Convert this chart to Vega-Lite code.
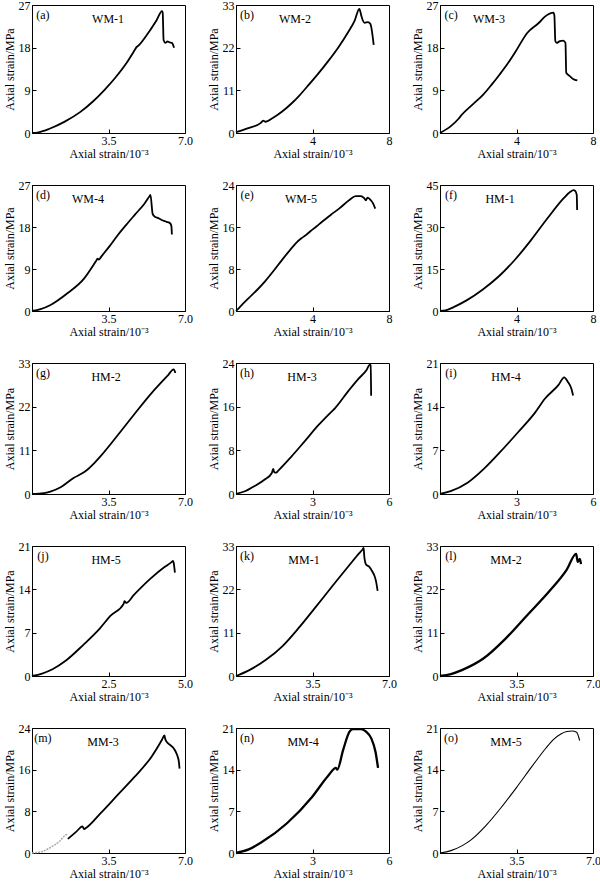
{
"$schema": "https://vega.github.io/schema/vega-lite/v6.json",
"padding": {"left": 2, "top": -2, "right": 0, "bottom": 0},
"background": "white",
"columns": 3,
"spacing": {"row": 52, "column": 51},
"bounds": "flush",
"datasets": {
"a": [{"x":0,"y":0},{"x":0.3,"y":0.15},{"x":0.8,"y":0.9},{"x":1.5,"y":2.4},{"x":2.2,"y":4.4},{"x":2.8,"y":6.7},{"x":3.3,"y":9.0},{"x":3.8,"y":11.6},{"x":4.3,"y":14.6},{"x":4.7,"y":17.5},{"x":4.78,"y":18.1},{"x":4.86,"y":18.4},{"x":5.3,"y":21.0},{"x":5.7,"y":23.8},{"x":5.95,"y":25.7},{"x":5.98,"y":25.4},{"x":6.02,"y":19.6},{"x":6.1,"y":19.0},{"x":6.2,"y":19.3},{"x":6.3,"y":19.1},{"x":6.4,"y":19.0},{"x":6.5,"y":18.0}],
"b": [{"x":0,"y":0.2},{"x":0.6,"y":1.2},{"x":1.3,"y":2.6},{"x":1.42,"y":3.2},{"x":1.55,"y":2.9},{"x":1.9,"y":3.8},{"x":2.38,"y":5.4},{"x":2.9,"y":7.6},{"x":3.3,"y":9.6},{"x":3.8,"y":12.4},{"x":4.3,"y":15.3},{"x":4.8,"y":18.4},{"x":5.34,"y":22.0},{"x":5.9,"y":26.3},{"x":6.2,"y":28.9},{"x":6.45,"y":32.0},{"x":6.5,"y":31.3},{"x":6.56,"y":30.1},{"x":6.73,"y":28.4},{"x":6.9,"y":28.6},{"x":7.03,"y":28.1},{"x":7.08,"y":27.1},{"x":7.2,"y":22.7}],
"c": [{"x":0,"y":0},{"x":0.55,"y":1.4},{"x":0.97,"y":3.0},{"x":1.15,"y":3.9},{"x":1.7,"y":6.0},{"x":2.26,"y":8.1},{"x":2.7,"y":10.2},{"x":3.11,"y":12.3},{"x":3.55,"y":14.7},{"x":3.97,"y":17.3},{"x":4.56,"y":21.1},{"x":5.16,"y":23.2},{"x":5.5,"y":24.6},{"x":5.93,"y":25.4},{"x":5.98,"y":24.8},{"x":6.03,"y":19.4},{"x":6.1,"y":19.0},{"x":6.27,"y":19.4},{"x":6.44,"y":19.5},{"x":6.56,"y":19.0},{"x":6.6,"y":12.7},{"x":6.79,"y":12.0},{"x":6.96,"y":11.4},{"x":7.18,"y":11.1}],
"d": [{"x":0,"y":0},{"x":0.39,"y":0.4},{"x":0.85,"y":1.3},{"x":1.62,"y":3.8},{"x":2.39,"y":7.0},{"x":2.93,"y":10.7},{"x":3.0,"y":11.2},{"x":3.06,"y":11.0},{"x":3.16,"y":11.6},{"x":3.55,"y":13.9},{"x":3.93,"y":16.3},{"x":4.3,"y":18.4},{"x":4.7,"y":20.6},{"x":5.16,"y":23.1},{"x":5.39,"y":24.7},{"x":5.42,"y":24.9},{"x":5.52,"y":20.8},{"x":5.62,"y":20.2},{"x":5.78,"y":19.9},{"x":5.93,"y":19.5},{"x":6.16,"y":19.1},{"x":6.32,"y":18.8},{"x":6.38,"y":18.1},{"x":6.4,"y":16.4}],
"e": [{"x":0,"y":0},{"x":0.21,"y":0.8},{"x":0.65,"y":2.4},{"x":1.1,"y":4.0},{"x":1.53,"y":5.7},{"x":2.0,"y":7.8},{"x":2.4,"y":9.7},{"x":2.8,"y":11.5},{"x":3.1,"y":12.8},{"x":3.4,"y":13.8},{"x":3.63,"y":14.4},{"x":3.89,"y":15.2},{"x":4.2,"y":16.1},{"x":4.5,"y":17.0},{"x":4.95,"y":18.3},{"x":5.39,"y":19.5},{"x":5.91,"y":21.1},{"x":6.26,"y":21.9},{"x":6.53,"y":21.9},{"x":6.7,"y":21.5},{"x":6.79,"y":21.1},{"x":6.88,"y":21.6},{"x":7.05,"y":21.1},{"x":7.18,"y":20.4},{"x":7.28,"y":19.5}],
"f": [{"x":0,"y":0},{"x":0.29,"y":0.2},{"x":0.71,"y":1.4},{"x":1.39,"y":3.8},{"x":2.24,"y":7.7},{"x":3.08,"y":12.4},{"x":3.93,"y":18.4},{"x":4.78,"y":25.5},{"x":5.63,"y":33.2},{"x":6.47,"y":40.3},{"x":6.8,"y":42.5},{"x":6.98,"y":43.2},{"x":7.07,"y":42.9},{"x":7.15,"y":41.5},{"x":7.17,"y":36.1}],
"g": [{"x":0,"y":0},{"x":0.54,"y":0.2},{"x":0.84,"y":0.6},{"x":1.31,"y":1.7},{"x":1.92,"y":4.1},{"x":2.3,"y":5.2},{"x":2.53,"y":6.1},{"x":2.85,"y":7.8},{"x":3.15,"y":9.6},{"x":3.92,"y":14.8},{"x":4.68,"y":20.1},{"x":5.45,"y":25.3},{"x":6.22,"y":29.9},{"x":6.48,"y":31.4},{"x":6.56,"y":30.5}],
"h": [{"x":0,"y":0},{"x":0.35,"y":0.5},{"x":0.75,"y":1.5},{"x":1.14,"y":2.7},{"x":1.4,"y":3.8},{"x":1.46,"y":4.6},{"x":1.5,"y":4.0},{"x":1.57,"y":3.9},{"x":1.66,"y":4.3},{"x":2.18,"y":6.9},{"x":2.7,"y":9.7},{"x":3.23,"y":12.6},{"x":3.75,"y":15.1},{"x":3.88,"y":15.7},{"x":4.41,"y":18.9},{"x":4.8,"y":21.1},{"x":5.12,"y":22.7},{"x":5.25,"y":23.7},{"x":5.28,"y":23.6},{"x":5.3,"y":18.0}],
"i": [{"x":0,"y":0},{"x":0.42,"y":0.45},{"x":1.08,"y":1.8},{"x":1.74,"y":4.1},{"x":2.4,"y":6.9},{"x":3.06,"y":9.9},{"x":3.72,"y":13.0},{"x":4.12,"y":15.3},{"x":4.65,"y":17.5},{"x":4.87,"y":18.7},{"x":5.01,"y":18.0},{"x":5.15,"y":16.9},{"x":5.22,"y":15.8}],
"j": [{"x":0,"y":0},{"x":0.33,"y":0.4},{"x":0.67,"y":1.1},{"x":1.11,"y":2.5},{"x":1.67,"y":5.0},{"x":2.22,"y":7.7},{"x":2.56,"y":9.7},{"x":3.0,"y":11.7},{"x":3.02,"y":12.1},{"x":3.08,"y":11.8},{"x":3.33,"y":13.1},{"x":3.89,"y":15.8},{"x":4.33,"y":17.6},{"x":4.56,"y":18.4},{"x":4.61,"y":18.6},{"x":4.63,"y":18.3},{"x":4.67,"y":16.7}],
"k": [{"x":0,"y":0},{"x":0.61,"y":1.5},{"x":1.37,"y":4.1},{"x":2.13,"y":7.6},{"x":2.9,"y":12.4},{"x":3.66,"y":17.6},{"x":4.42,"y":22.9},{"x":5.18,"y":28.1},{"x":5.64,"y":31.2},{"x":5.79,"y":32.1},{"x":5.84,"y":32.5},{"x":5.87,"y":30.3},{"x":5.95,"y":28.3},{"x":6.1,"y":27.7},{"x":6.25,"y":26.4},{"x":6.33,"y":25.5},{"x":6.4,"y":24.2},{"x":6.48,"y":21.6}],
"l": [{"x":0,"y":0},{"x":0.5,"y":0.5},{"x":1,"y":1.5},{"x":2,"y":4.5},{"x":3,"y":9.5},{"x":4,"y":15.5},{"x":5,"y":21.5},{"x":5.8,"y":27},{"x":6.23,"y":31},{"x":6.3,"y":29},{"x":6.4,"y":29.7},{"x":6.45,"y":28.4}],
"m0": [{"x":0,"y":0},{"x":0.47,"y":0.3},{"x":0.94,"y":1.3},{"x":1.25,"y":2.2},{"x":1.56,"y":3.5},{"x":1.64,"y":3.6}],
"m": [{"x":1.64,"y":2.7},{"x":2.03,"y":4.1},{"x":2.31,"y":5.1},{"x":2.38,"y":4.6},{"x":2.5,"y":4.9},{"x":3.13,"y":7.6},{"x":3.91,"y":11.1},{"x":4.69,"y":14.6},{"x":5.47,"y":18.5},{"x":5.94,"y":21.7},{"x":6.06,"y":22.6},{"x":6.09,"y":22.0},{"x":6.17,"y":21.3},{"x":6.33,"y":20.7},{"x":6.48,"y":20.1},{"x":6.64,"y":18.8},{"x":6.72,"y":17.5},{"x":6.75,"y":16.2}],
"n": [{"x":0,"y":0},{"x":0.5,"y":0.6},{"x":1,"y":1.8},{"x":2,"y":5},{"x":3,"y":9.5},{"x":3.6,"y":12.9},{"x":3.92,"y":14.3},{"x":3.97,"y":14.0},{"x":4.2,"y":17.3},{"x":4.47,"y":20.5},{"x":4.6,"y":20.8},{"x":4.9,"y":20.8},{"x":5.1,"y":20.4},{"x":5.3,"y":19.3},{"x":5.47,"y":17.0},{"x":5.57,"y":14.3}],
"o": [{"x":0,"y":0},{"x":0.5,"y":0.4},{"x":1,"y":1.2},{"x":1.42,"y":2.2},{"x":2.1,"y":4.6},{"x":2.79,"y":7.6},{"x":3.56,"y":11.3},{"x":4.2,"y":14.5},{"x":4.84,"y":17.6},{"x":5.2,"y":19.1},{"x":5.53,"y":20.0},{"x":5.8,"y":20.4},{"x":6.05,"y":20.5},{"x":6.25,"y":20.3},{"x":6.39,"y":18.9}],
"lab": [
{"p":"a","x":0.5,"y":24.9,"t":"(a)"},{"p":"a","x":3.48,"y":24.0,"t":"WM-1"},
{"p":"b","x":0.58,"y":30.4,"t":"(b)"},{"p":"b","x":3.08,"y":29.4,"t":"WM-2"},
{"p":"c","x":0.58,"y":24.9,"t":"(c)"},{"p":"c","x":2.56,"y":24.0,"t":"WM-3"},
{"p":"d","x":0.5,"y":24.9,"t":"(d)"},{"p":"d","x":2.56,"y":24.0,"t":"WM-4"},
{"p":"e","x":0.58,"y":22.1,"t":"(e)"},{"p":"e","x":3.4,"y":21.4,"t":"WM-5"},
{"p":"f","x":0.58,"y":41.5,"t":"(f)"},{"p":"f","x":3.14,"y":40.1,"t":"HM-1"},
{"p":"g","x":0.5,"y":30.4,"t":"(g)"},{"p":"g","x":3.39,"y":29.4,"t":"HM-2"},
{"p":"h","x":0.43,"y":22.1,"t":"(h)"},{"p":"h","x":2.59,"y":21.4,"t":"HM-3"},
{"p":"i","x":0.43,"y":19.4,"t":"(i)"},{"p":"i","x":2.59,"y":18.7,"t":"HM-4"},
{"p":"j","x":0.36,"y":19.4,"t":"(j)"},{"p":"j","x":2.42,"y":18.7,"t":"HM-5"},
{"p":"k","x":0.5,"y":30.4,"t":"(k)"},{"p":"k","x":3.11,"y":29.4,"t":"MM-1"},
{"p":"l","x":0.5,"y":30.4,"t":"(l)"},{"p":"l","x":3.02,"y":29.4,"t":"MM-2"},
{"p":"m","x":0.5,"y":22.1,"t":"(m)"},{"p":"m","x":3.25,"y":21.4,"t":"MM-3"},
{"p":"n","x":0.43,"y":19.4,"t":"(n)"},{"p":"n","x":2.63,"y":18.7,"t":"MM-4"},
{"p":"o","x":0.5,"y":19.4,"t":"(o)"},{"p":"o","x":3.02,"y":18.7,"t":"MM-5"}
]
},
"concat": [
{"width":153,"height":128,"layer":[
 {"data":{"name":"a"},"mark":{"type":"line","color":"black","strokeWidth":1.8,"interpolate":"monotone"},"encoding":{"x":{"field":"x","type":"quantitative","scale":{"domain":[0,7],"nice":false},"axis":{"values":[3.5,7],"format":".1f","title":"Axial strain/10⁻³"}},"y":{"field":"y","type":"quantitative","scale":{"domain":[0,27],"nice":false},"axis":{"values":[0,9,18,27],"title":"Axial strain/MPa"}}}},
 {"data":{"name":"lab"},"transform":[{"filter":"datum.p=='a'"}],"mark":{"type":"text"},"encoding":{"x":{"field":"x","type":"quantitative"},"y":{"field":"y","type":"quantitative"},"text":{"field":"t"}}}]},
{"width":153,"height":128,"layer":[
 {"data":{"name":"b"},"mark":{"type":"line","color":"black","strokeWidth":1.8,"interpolate":"monotone"},"encoding":{"x":{"field":"x","type":"quantitative","scale":{"domain":[0,8],"nice":false},"axis":{"values":[4,8],"format":"d","title":"Axial strain/10⁻³"}},"y":{"field":"y","type":"quantitative","scale":{"domain":[0,33],"nice":false},"axis":{"values":[0,11,22,33],"title":"Axial strain/MPa"}}}},
 {"data":{"name":"lab"},"transform":[{"filter":"datum.p=='b'"}],"mark":{"type":"text"},"encoding":{"x":{"field":"x","type":"quantitative"},"y":{"field":"y","type":"quantitative"},"text":{"field":"t"}}}]},
{"width":153,"height":128,"layer":[
 {"data":{"name":"c"},"mark":{"type":"line","color":"black","strokeWidth":1.8,"interpolate":"monotone"},"encoding":{"x":{"field":"x","type":"quantitative","scale":{"domain":[0,8],"nice":false},"axis":{"values":[4,8],"format":"d","title":"Axial strain/10⁻³"}},"y":{"field":"y","type":"quantitative","scale":{"domain":[0,27],"nice":false},"axis":{"values":[0,9,18,27],"title":"Axial strain/MPa"}}}},
 {"data":{"name":"lab"},"transform":[{"filter":"datum.p=='c'"}],"mark":{"type":"text"},"encoding":{"x":{"field":"x","type":"quantitative"},"y":{"field":"y","type":"quantitative"},"text":{"field":"t"}}}]},
{"width":153,"height":126,"layer":[
 {"data":{"name":"d"},"mark":{"type":"line","color":"black","strokeWidth":1.8,"interpolate":"monotone"},"encoding":{"x":{"field":"x","type":"quantitative","scale":{"domain":[0,7],"nice":false},"axis":{"values":[3.5,7],"format":".1f","title":"Axial strain/10⁻³"}},"y":{"field":"y","type":"quantitative","scale":{"domain":[0,27],"nice":false},"axis":{"values":[0,9,18,27],"title":"Axial strain/MPa"}}}},
 {"data":{"name":"lab"},"transform":[{"filter":"datum.p=='d'"}],"mark":{"type":"text"},"encoding":{"x":{"field":"x","type":"quantitative"},"y":{"field":"y","type":"quantitative"},"text":{"field":"t"}}}]},
{"width":153,"height":126,"layer":[
 {"data":{"name":"e"},"mark":{"type":"line","color":"black","strokeWidth":1.8,"interpolate":"monotone"},"encoding":{"x":{"field":"x","type":"quantitative","scale":{"domain":[0,8],"nice":false},"axis":{"values":[4,8],"format":"d","title":"Axial strain/10⁻³"}},"y":{"field":"y","type":"quantitative","scale":{"domain":[0,24],"nice":false},"axis":{"values":[0,8,16,24],"title":"Axial strain/MPa"}}}},
 {"data":{"name":"lab"},"transform":[{"filter":"datum.p=='e'"}],"mark":{"type":"text"},"encoding":{"x":{"field":"x","type":"quantitative"},"y":{"field":"y","type":"quantitative"},"text":{"field":"t"}}}]},
{"width":153,"height":126,"layer":[
 {"data":{"name":"f"},"mark":{"type":"line","color":"black","strokeWidth":1.8,"interpolate":"monotone"},"encoding":{"x":{"field":"x","type":"quantitative","scale":{"domain":[0,8],"nice":false},"axis":{"values":[4,8],"format":"d","title":"Axial strain/10⁻³"}},"y":{"field":"y","type":"quantitative","scale":{"domain":[0,45],"nice":false},"axis":{"values":[0,15,30,45],"title":"Axial strain/MPa"}}}},
 {"data":{"name":"lab"},"transform":[{"filter":"datum.p=='f'"}],"mark":{"type":"text"},"encoding":{"x":{"field":"x","type":"quantitative"},"y":{"field":"y","type":"quantitative"},"text":{"field":"t"}}}]},
{"width":153,"height":131,"layer":[
 {"data":{"name":"g"},"mark":{"type":"line","color":"black","strokeWidth":1.8,"interpolate":"monotone"},"encoding":{"x":{"field":"x","type":"quantitative","scale":{"domain":[0,7],"nice":false},"axis":{"values":[3.5,7],"format":".1f","title":"Axial strain/10⁻³"}},"y":{"field":"y","type":"quantitative","scale":{"domain":[0,33],"nice":false},"axis":{"values":[0,11,22,33],"title":"Axial strain/MPa"}}}},
 {"data":{"name":"lab"},"transform":[{"filter":"datum.p=='g'"}],"mark":{"type":"text"},"encoding":{"x":{"field":"x","type":"quantitative"},"y":{"field":"y","type":"quantitative"},"text":{"field":"t"}}}]},
{"width":153,"height":131,"layer":[
 {"data":{"name":"h"},"mark":{"type":"line","color":"black","strokeWidth":1.8,"interpolate":"monotone"},"encoding":{"x":{"field":"x","type":"quantitative","scale":{"domain":[0,6],"nice":false},"axis":{"values":[3,6],"format":"d","title":"Axial strain/10⁻³"}},"y":{"field":"y","type":"quantitative","scale":{"domain":[0,24],"nice":false},"axis":{"values":[0,8,16,24],"title":"Axial strain/MPa"}}}},
 {"data":{"name":"lab"},"transform":[{"filter":"datum.p=='h'"}],"mark":{"type":"text"},"encoding":{"x":{"field":"x","type":"quantitative"},"y":{"field":"y","type":"quantitative"},"text":{"field":"t"}}}]},
{"width":153,"height":131,"layer":[
 {"data":{"name":"i"},"mark":{"type":"line","color":"black","strokeWidth":1.8,"interpolate":"monotone"},"encoding":{"x":{"field":"x","type":"quantitative","scale":{"domain":[0,6],"nice":false},"axis":{"values":[3,6],"format":"d","title":"Axial strain/10⁻³"}},"y":{"field":"y","type":"quantitative","scale":{"domain":[0,21],"nice":false},"axis":{"values":[0,7,14,21],"title":"Axial strain/MPa"}}}},
 {"data":{"name":"lab"},"transform":[{"filter":"datum.p=='i'"}],"mark":{"type":"text"},"encoding":{"x":{"field":"x","type":"quantitative"},"y":{"field":"y","type":"quantitative"},"text":{"field":"t"}}}]},
{"width":153,"height":130,"layer":[
 {"data":{"name":"j"},"mark":{"type":"line","color":"black","strokeWidth":1.8,"interpolate":"monotone"},"encoding":{"x":{"field":"x","type":"quantitative","scale":{"domain":[0,5],"nice":false},"axis":{"values":[2.5,5],"format":".1f","title":"Axial strain/10⁻³"}},"y":{"field":"y","type":"quantitative","scale":{"domain":[0,21],"nice":false},"axis":{"values":[0,7,14,21],"title":"Axial strain/MPa"}}}},
 {"data":{"name":"lab"},"transform":[{"filter":"datum.p=='j'"}],"mark":{"type":"text"},"encoding":{"x":{"field":"x","type":"quantitative"},"y":{"field":"y","type":"quantitative"},"text":{"field":"t"}}}]},
{"width":153,"height":130,"layer":[
 {"data":{"name":"k"},"mark":{"type":"line","color":"black","strokeWidth":1.8,"interpolate":"monotone"},"encoding":{"x":{"field":"x","type":"quantitative","scale":{"domain":[0,7],"nice":false},"axis":{"values":[3.5,7],"format":".1f","title":"Axial strain/10⁻³"}},"y":{"field":"y","type":"quantitative","scale":{"domain":[0,33],"nice":false},"axis":{"values":[0,11,22,33],"title":"Axial strain/MPa"}}}},
 {"data":{"name":"lab"},"transform":[{"filter":"datum.p=='k'"}],"mark":{"type":"text"},"encoding":{"x":{"field":"x","type":"quantitative"},"y":{"field":"y","type":"quantitative"},"text":{"field":"t"}}}]},
{"width":153,"height":130,"layer":[
 {"data":{"name":"l"},"mark":{"type":"line","color":"black","strokeWidth":2.3,"interpolate":"monotone"},"encoding":{"x":{"field":"x","type":"quantitative","scale":{"domain":[0,7],"nice":false},"axis":{"values":[3.5,7],"format":".1f","title":"Axial strain/10⁻³"}},"y":{"field":"y","type":"quantitative","scale":{"domain":[0,33],"nice":false},"axis":{"values":[0,11,22,33],"title":"Axial strain/MPa"}}}},
 {"data":{"name":"lab"},"transform":[{"filter":"datum.p=='l'"}],"mark":{"type":"text"},"encoding":{"x":{"field":"x","type":"quantitative"},"y":{"field":"y","type":"quantitative"},"text":{"field":"t"}}}]},
{"width":153,"height":125,"layer":[
 {"data":{"name":"m0"},"mark":{"type":"line","color":"#aaaaaa","strokeWidth":1.5,"strokeDash":[2,1],"interpolate":"monotone"},"encoding":{"x":{"field":"x","type":"quantitative","scale":{"domain":[0,7],"nice":false},"axis":{"values":[3.5,7],"format":".1f","title":"Axial strain/10⁻³"}},"y":{"field":"y","type":"quantitative","scale":{"domain":[0,24],"nice":false},"axis":{"values":[0,8,16,24],"title":"Axial strain/MPa"}}}},
 {"data":{"name":"m"},"mark":{"type":"line","color":"black","strokeWidth":1.8,"interpolate":"monotone"},"encoding":{"x":{"field":"x","type":"quantitative"},"y":{"field":"y","type":"quantitative"}}},
 {"data":{"name":"lab"},"transform":[{"filter":"datum.p=='m'"}],"mark":{"type":"text"},"encoding":{"x":{"field":"x","type":"quantitative"},"y":{"field":"y","type":"quantitative"},"text":{"field":"t"}}}]},
{"width":153,"height":125,"layer":[
 {"data":{"name":"n"},"mark":{"type":"line","color":"black","strokeWidth":2.3,"interpolate":"monotone"},"encoding":{"x":{"field":"x","type":"quantitative","scale":{"domain":[0,6],"nice":false},"axis":{"values":[3,6],"format":"d","title":"Axial strain/10⁻³"}},"y":{"field":"y","type":"quantitative","scale":{"domain":[0,21],"nice":false},"axis":{"values":[0,7,14,21],"title":"Axial strain/MPa"}}}},
 {"data":{"name":"lab"},"transform":[{"filter":"datum.p=='n'"}],"mark":{"type":"text"},"encoding":{"x":{"field":"x","type":"quantitative"},"y":{"field":"y","type":"quantitative"},"text":{"field":"t"}}}]},
{"width":153,"height":125,"layer":[
 {"data":{"name":"o"},"mark":{"type":"line","color":"black","strokeWidth":1.1,"interpolate":"monotone"},"encoding":{"x":{"field":"x","type":"quantitative","scale":{"domain":[0,7],"nice":false},"axis":{"values":[3.5,7],"format":".1f","title":"Axial strain/10⁻³"}},"y":{"field":"y","type":"quantitative","scale":{"domain":[0,21],"nice":false},"axis":{"values":[0,7,14,21],"title":"Axial strain/MPa"}}}},
 {"data":{"name":"lab"},"transform":[{"filter":"datum.p=='o'"}],"mark":{"type":"text"},"encoding":{"x":{"field":"x","type":"quantitative"},"y":{"field":"y","type":"quantitative"},"text":{"field":"t"}}}]}
],
"config": {
 "font": "Liberation Serif",
 "view": {"stroke": "black", "strokeWidth": 1},
 "axis": {"grid": false, "domainColor": "black", "tickColor": "black", "tickSize": -4, "labelFont": "Liberation Serif", "labelFontSize": 12, "labelColor": "black", "labelFlush": false, "labelOverlap": false, "titleFont": "Liberation Serif", "titleFontSize": 12, "titleFontWeight": "normal", "titleColor": "black", "labelPadding": 6, "titlePadding": 2},
 "text": {"font": "Liberation Serif", "fontSize": 12, "color": "black"}
}
}
